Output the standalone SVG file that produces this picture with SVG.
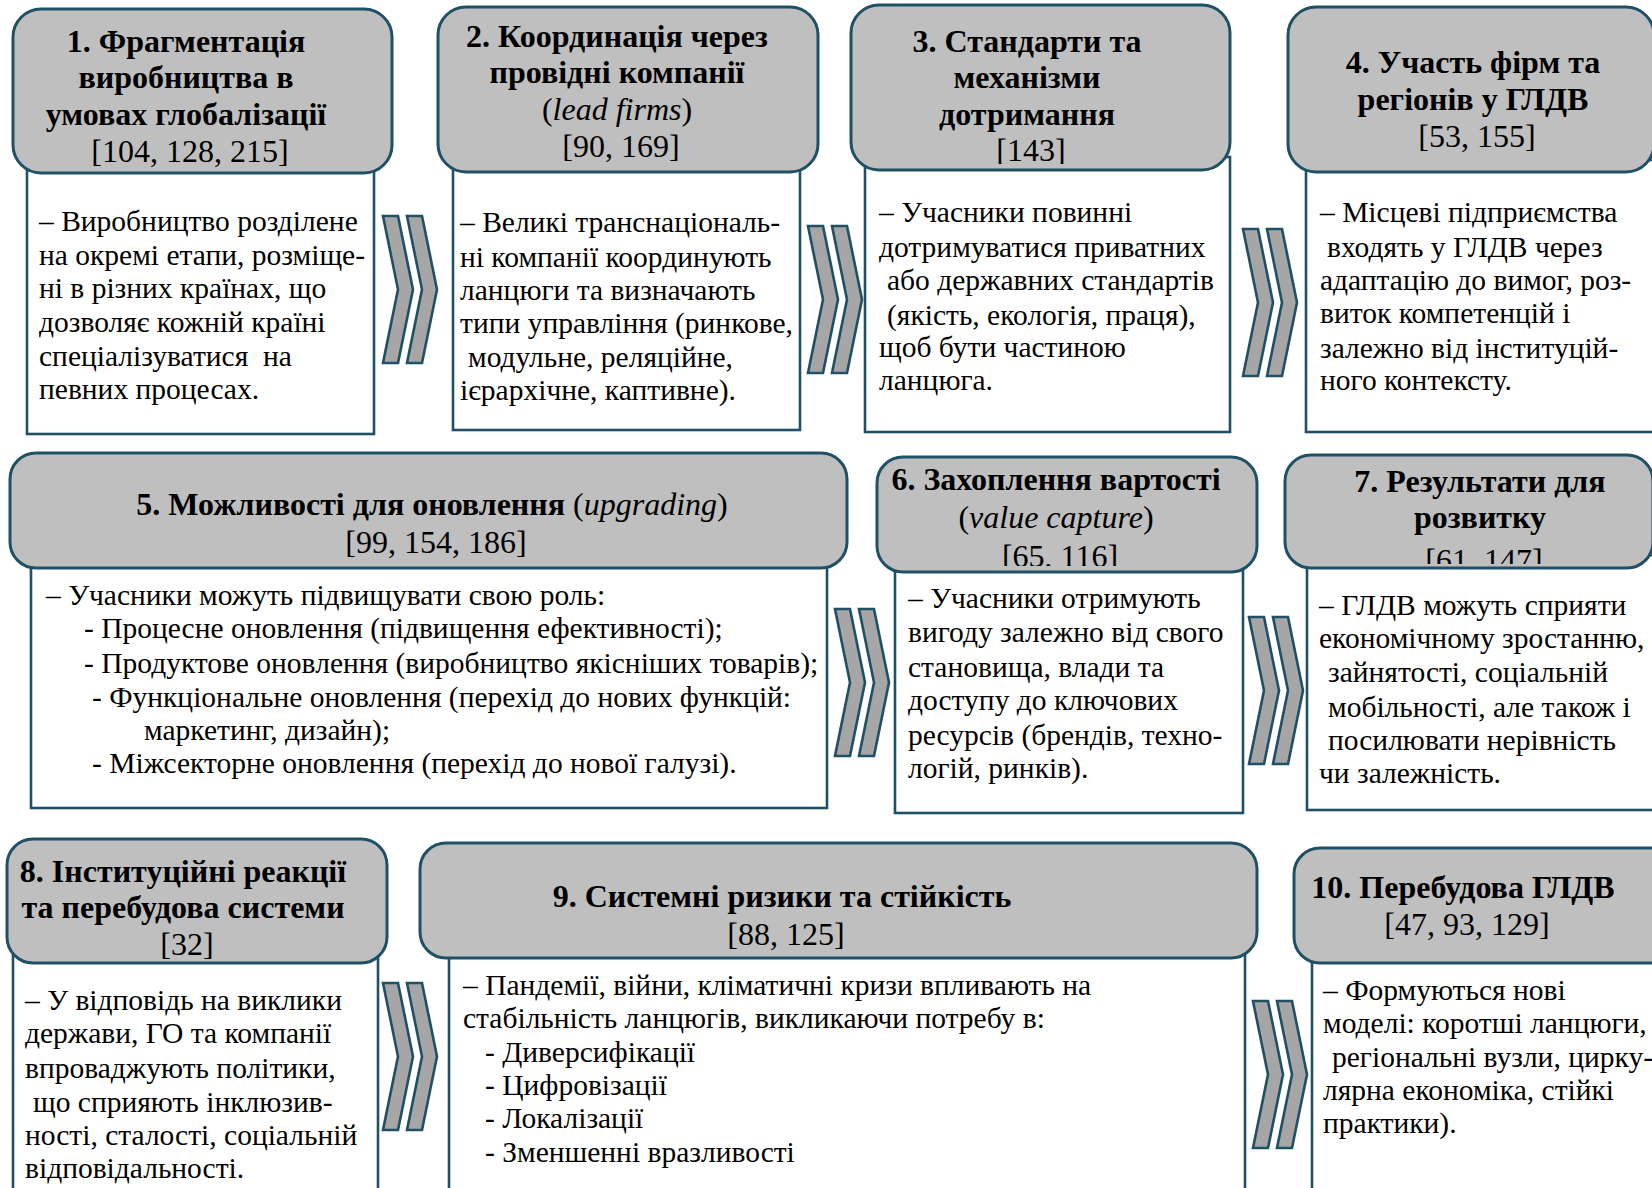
<svg xmlns="http://www.w3.org/2000/svg" width="1652" height="1188" viewBox="0 0 1652 1188">
  <style>
    .hdr { fill: #bfbfbf; stroke: #1f5066; stroke-width: 3; }
    .body { fill: #ffffff; stroke: #1f5066; stroke-width: 2.6; }
    .chev { fill: #a6a6a6; stroke: #1f5066; stroke-width: 2.6; stroke-linejoin: miter; }
    .ttl { font-family: "Liberation Serif", "Times New Roman", serif; font-size: 32px; font-weight: bold; text-anchor: middle; fill: #000; }
    .ref { font-weight: normal; }
    .it { font-weight: normal; font-style: italic; }
    .txt { font-family: "Liberation Serif", "Times New Roman", serif; font-size: 29.5px; fill: #000; }
  </style>
  <defs>
    <!-- double chevron, 15 wide per stroke, 147 tall -->
    <g id="dchev">
      <polygon class="chev" points="0,0 15,0 30,73.5 15,147 0,147 15,73.5"/>
      <polygon class="chev" points="24,0 39,0 54,73.5 39,147 24,147 39,73.5"/>
    </g>
    <clipPath id="clip3"><rect x="851" y="0" width="380" height="164"/></clipPath>
    <clipPath id="clip6"><rect x="877" y="440" width="380" height="126"/></clipPath>
    <clipPath id="clip7"><rect x="1285" y="440" width="380" height="124"/></clipPath>
  </defs>

  <!-- 1 -->
  <g id="node1">
    <rect class="body" x="27" y="160" width="347" height="274"/>
    <rect class="hdr" x="13" y="9" width="379" height="164" rx="28"/>
    <text class="ttl">
      <tspan x="190" y="52">1. Фрагментація</tspan>
      <tspan x="190" y="88">виробництва в</tspan>
      <tspan x="190" y="125">умовах глобалізації</tspan>
      <tspan x="190" y="162" class="ref">[104, 128, 215]</tspan>
    </text>
    <text class="txt">
      <tspan x="39" y="231">– Виробництво розділене</tspan>
      <tspan x="39" y="265">на окремі етапи, розміще-</tspan>
      <tspan x="39" y="298">ні в різних країнах, що</tspan>
      <tspan x="39" y="332">дозволяє кожній країні</tspan>
    </text>
    <text class="txt" x="39" y="366" xml:space="preserve">спеціалізуватися  на</text>
    <text class="txt" x="39" y="399">певних процесах.</text>
  </g>

  <!-- 2 -->
  <g id="node2">
    <rect class="body" x="453" y="160" width="347" height="270"/>
    <rect class="hdr" x="438" y="7" width="380" height="165" rx="28"/>
    <text class="ttl">
      <tspan x="621" y="47">2. Координація через</tspan>
      <tspan x="621" y="83">провідні компанії</tspan>
      <tspan x="621" y="120" class="ref">(<tspan class="it">lead firms</tspan>)</tspan>
      <tspan x="621" y="157" class="ref">[90, 169]</tspan>
    </text>
    <text class="txt">
      <tspan x="460" y="232">– Великі транснаціональ-</tspan>
      <tspan x="460" y="267">ні компанії координують</tspan>
      <tspan x="460" y="300">ланцюги та визначають</tspan>
      <tspan x="460" y="333">типи управління (ринкове,</tspan>
      <tspan x="468" y="367">модульне, реляційне,</tspan>
      <tspan x="460" y="400">ієрархічне, каптивне).</tspan>
    </text>
  </g>

  <!-- 3 -->
  <g id="node3">
    <rect class="body" x="865" y="157" width="365" height="275"/>
    <rect class="hdr" x="851" y="5" width="379" height="165" rx="28"/>
    <text class="ttl" clip-path="url(#clip3)">
      <tspan x="1031" y="52">3. Стандарти та</tspan>
      <tspan x="1031" y="88">механізми</tspan>
      <tspan x="1031" y="125">дотримання</tspan>
      <tspan x="1031" y="161" class="ref">[143]</tspan>
    </text>
    <text class="txt">
      <tspan x="879" y="222">– Учасники повинні</tspan>
      <tspan x="879" y="257">дотримуватися приватних</tspan>
      <tspan x="887" y="290">або державних стандартів</tspan>
      <tspan x="887" y="325">(якість, екологія, праця),</tspan>
      <tspan x="879" y="357">щоб бути частиною</tspan>
      <tspan x="879" y="390">ланцюга.</tspan>
    </text>
  </g>

  <!-- 4 -->
  <g id="node4">
    <rect class="body" x="1306" y="160" width="370" height="272"/>
    <rect class="hdr" x="1288" y="7" width="366" height="165" rx="28"/>
    <text class="ttl">
      <tspan x="1477" y="73">4. Участь фірм та</tspan>
      <tspan x="1477" y="110">регіонів у ГЛДВ</tspan>
      <tspan x="1477" y="147" class="ref">[53, 155]</tspan>
    </text>
    <text class="txt">
      <tspan x="1320" y="222">– Місцеві підприємства</tspan>
      <tspan x="1327" y="257">входять у ГЛДВ через</tspan>
      <tspan x="1320" y="290">адаптацію до вимог, роз-</tspan>
      <tspan x="1320" y="323">виток компетенцій і</tspan>
      <tspan x="1320" y="358">залежно від інституцій-</tspan>
      <tspan x="1320" y="390">ного контексту.</tspan>
    </text>
  </g>

  <!-- 5 -->
  <g id="node5">
    <rect class="body" x="31" y="555" width="796" height="253"/>
    <rect class="hdr" x="10" y="453" width="837" height="115" rx="26"/>
    <text class="ttl">
      <tspan x="436" y="515">5. Можливості для оновлення <tspan class="ref">(<tspan class="it">upgrading</tspan>)</tspan></tspan>
      <tspan x="436" y="553" class="ref">[99, 154, 186]</tspan>
    </text>
    <text class="txt">
      <tspan x="46" y="605">– Учасники можуть підвищувати свою роль:</tspan>
      <tspan x="84" y="638">- Процесне оновлення (підвищення ефективності);</tspan>
      <tspan x="84" y="673">- Продуктове оновлення (виробництво якісніших товарів);</tspan>
      <tspan x="92" y="707">- Функціональне оновлення (перехід до нових функцій:</tspan>
      <tspan x="144" y="740">маркетинг, дизайн);</tspan>
      <tspan x="92" y="773">- Міжсекторне оновлення (перехід до нової галузі).</tspan>
    </text>
  </g>

  <!-- 6 -->
  <g id="node6">
    <rect class="body" x="895" y="560" width="348" height="253"/>
    <rect class="hdr" x="877" y="457" width="380" height="115" rx="26"/>
    <text class="ttl" clip-path="url(#clip6)">
      <tspan x="1060" y="490">6. Захоплення вартості</tspan>
      <tspan x="1060" y="528" class="ref">(<tspan class="it">value capture</tspan>)</tspan>
      <tspan x="1060" y="567" class="ref">[65, 116]</tspan>
    </text>
    <text class="txt">
      <tspan x="908" y="608">– Учасники отримують</tspan>
      <tspan x="908" y="642">вигоду залежно від свого</tspan>
      <tspan x="908" y="677">становища, влади та</tspan>
      <tspan x="908" y="710">доступу до ключових</tspan>
      <tspan x="908" y="745">ресурсів (брендів, техно-</tspan>
      <tspan x="908" y="778">логій, ринків).</tspan>
    </text>
  </g>

  <!-- 7 -->
  <g id="node7">
    <rect class="body" x="1307" y="555" width="370" height="255"/>
    <rect class="hdr" x="1285" y="455" width="368" height="113" rx="26"/>
    <text class="ttl" clip-path="url(#clip7)">
      <tspan x="1484" y="492">7. Результати для</tspan>
      <tspan x="1484" y="528">розвитку</tspan>
      <tspan x="1484" y="571" class="ref">[61, 147]</tspan>
    </text>
    <text class="txt">
      <tspan x="1319" y="615">– ГЛДВ можуть сприяти</tspan>
      <tspan x="1319" y="648">економічному зростанню,</tspan>
      <tspan x="1328" y="682">зайнятості, соціальній</tspan>
      <tspan x="1328" y="717">мобільності, але також і</tspan>
      <tspan x="1328" y="750">посилювати нерівність</tspan>
      <tspan x="1319" y="783">чи залежність.</tspan>
    </text>
  </g>

  <!-- 8 -->
  <g id="node8">
    <rect class="body" x="13" y="950" width="365" height="260"/>
    <rect class="hdr" x="7" y="839" width="380" height="124" rx="26"/>
    <text class="ttl">
      <tspan x="187" y="882">8. Інституційні реакції</tspan>
      <tspan x="187" y="918">та перебудова системи</tspan>
      <tspan x="187" y="955" class="ref">[32]</tspan>
    </text>
    <text class="txt">
      <tspan x="25" y="1010">– У відповідь на виклики</tspan>
      <tspan x="25" y="1043">держави, ГО та компанії</tspan>
      <tspan x="25" y="1078">впроваджують політики,</tspan>
      <tspan x="33" y="1112">що сприяють інклюзив-</tspan>
      <tspan x="25" y="1145">ності, сталості, соціальній</tspan>
      <tspan x="25" y="1178">відповідальності.</tspan>
    </text>
  </g>

  <!-- 9 -->
  <g id="node9">
    <rect class="body" x="449" y="945" width="796" height="265"/>
    <rect class="hdr" x="420" y="843" width="837" height="115" rx="26"/>
    <text class="ttl">
      <tspan x="786" y="907">9. Системні ризики та стійкість</tspan>
      <tspan x="786" y="945" class="ref">[88, 125]</tspan>
    </text>
    <text class="txt">
      <tspan x="463" y="995">– Пандемії, війни, кліматичні кризи впливають на</tspan>
      <tspan x="463" y="1028">стабільність ланцюгів, викликаючи потребу в:</tspan>
      <tspan x="485" y="1062">- Диверсифікації</tspan>
      <tspan x="485" y="1095">- Цифровізації</tspan>
      <tspan x="485" y="1128">- Локалізації</tspan>
      <tspan x="485" y="1162">- Зменшенні вразливості</tspan>
    </text>
  </g>

  <!-- 10 -->
  <g id="node10">
    <rect class="body" x="1312" y="950" width="370" height="260"/>
    <rect class="hdr" x="1294" y="848" width="390" height="115" rx="26"/>
    <text class="ttl">
      <tspan x="1467" y="898">10. Перебудова ГЛДВ</tspan>
      <tspan x="1467" y="935" class="ref">[47, 93, 129]</tspan>
    </text>
    <text class="txt">
      <tspan x="1323" y="1000">– Формуються нові</tspan>
      <tspan x="1323" y="1033">моделі: коротші ланцюги,</tspan>
      <tspan x="1332" y="1067">регіональні вузли, цирку-</tspan>
      <tspan x="1323" y="1100">лярна економіка, стійкі</tspan>
      <tspan x="1323" y="1133">практики).</tspan>
    </text>
  </g>

  <!-- connectors: double chevrons between consecutive stages -->
  <g id="connectors">
    <use href="#dchev" transform="translate(383,216)"/>
    <use href="#dchev" transform="translate(808,226)"/>
    <use href="#dchev" transform="translate(1243,229)"/>
    <use href="#dchev" transform="translate(835,609)"/>
    <use href="#dchev" transform="translate(1249,617)"/>
    <use href="#dchev" transform="translate(383,983)"/>
    <use href="#dchev" transform="translate(1253,1001)"/>
  </g>
</svg>
